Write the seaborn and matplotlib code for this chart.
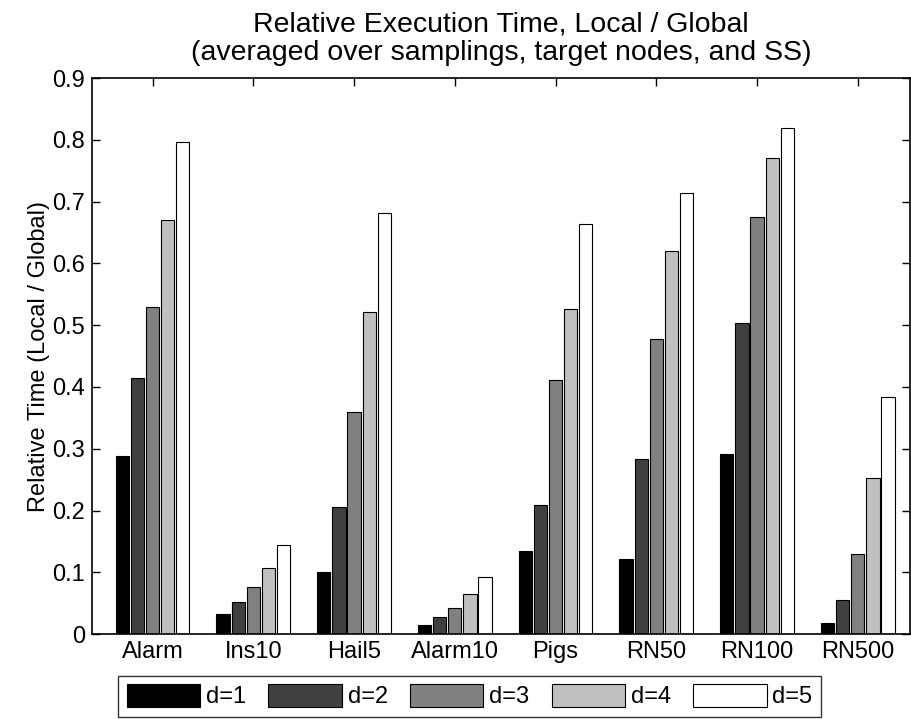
import matplotlib
matplotlib.use("Agg")
import matplotlib.pyplot as plt
import seaborn as sns
import pandas as pd
from matplotlib.patches import Patch

categories = ["Alarm", "Ins10", "Hail5", "Alarm10", "Pigs", "RN50", "RN100", "RN500"]
series_names = ["d=1", "d=2", "d=3", "d=4", "d=5"]
d1 = [0.289, 0.032, 0.101, 0.015, 0.135, 0.121, 0.292, 0.018]
d2 = [0.415, 0.052, 0.205, 0.027, 0.209, 0.284, 0.504, 0.056]
d3 = [0.529, 0.077, 0.360, 0.043, 0.412, 0.477, 0.675, 0.130]
d4 = [0.670, 0.107, 0.522, 0.065, 0.527, 0.620, 0.771, 0.252]
d5 = [0.797, 0.145, 0.681, 0.093, 0.663, 0.714, 0.819, 0.383]
yticks = [0, 0.1, 0.2, 0.3, 0.4, 0.5, 0.6, 0.7, 0.8, 0.9]
colors = ["#000000", "#404040", "#808080", "#c0c0c0", "#ffffff"]

rows = []
for name, vals in zip(series_names, [d1, d2, d3, d4, d5]):
    for c, v in zip(categories, vals):
        rows.append({"cat": c, "series": name, "value": v})
df = pd.DataFrame(rows)

sns.set_style("ticks")
plt.rcParams["font.family"] = ["Liberation Sans", "DejaVu Sans"]
plt.rcParams.update({"text.color": "black", "axes.labelcolor": "black",
                     "xtick.color": "black", "ytick.color": "black",
                     "axes.edgecolor": "black"})

fig = plt.figure(figsize=(9.12, 7.19), dpi=100)
ax = fig.add_axes([0.101, 0.118, 0.897, 0.7735])

sns.barplot(data=df, x="cat", y="value", hue="series", order=categories,
            hue_order=series_names, palette=colors, width=0.75, gap=0.12,
            edgecolor="black", linewidth=0.8, saturation=1, ax=ax, legend=False)

fs = 17
ax.set_xlim(-0.6, 7.52)
ax.set_ylim(0, 0.9)
ax.set_yticks(yticks)
ax.set_yticklabels([f"{t:g}" for t in yticks], fontsize=fs)
ax.set_xticks(range(len(categories)))
ax.set_xticklabels(categories, fontsize=fs)
ax.set_xlabel("")
ax.set_ylabel("Relative Time (Local / Global)", fontsize=fs, labelpad=2)
ax.tick_params(direction="in", top=True, right=True, length=6, width=1, pad=5,
               colors="black")
for s in ax.spines.values():
    s.set_visible(True)
    s.set_linewidth(1.2)
    s.set_color("black")

ax.set_title("Relative Execution Time, Local / Global\n(averaged over samplings, target nodes, and SS)",
             fontsize=20.5, pad=13, linespacing=1.12, color="black")

handles = [Patch(facecolor=c, edgecolor="black", linewidth=0.8) for c in colors]
leg = fig.legend(handles, series_names, loc="lower center", ncol=5,
                 bbox_to_anchor=(0.515, 0.0), fontsize=fs, frameon=True,
                 fancybox=False, edgecolor="black", handlelength=3.1,
                 handleheight=1.1, columnspacing=0.95, handletextpad=0.25,
                 borderpad=0.35, borderaxespad=0.1)
leg.get_frame().set_linewidth(1.0)

fig.savefig("out.png", dpi=100)
